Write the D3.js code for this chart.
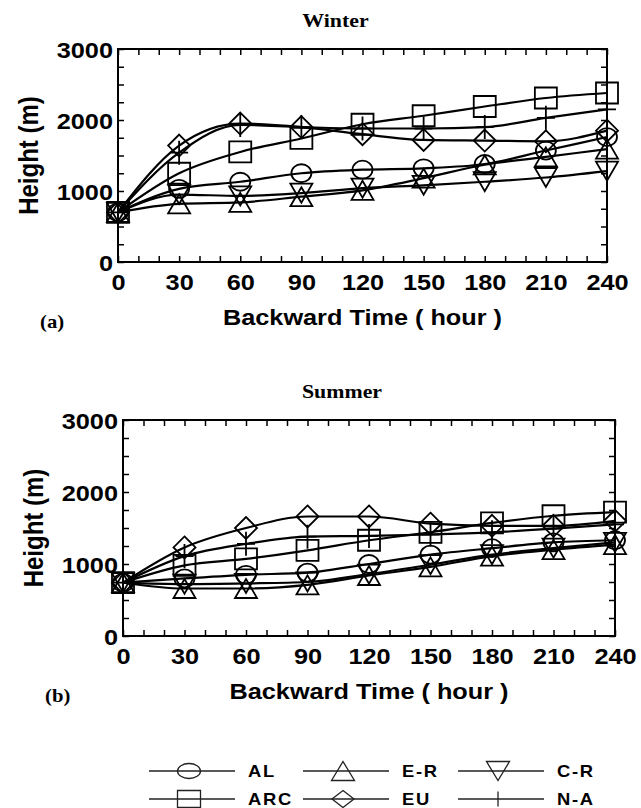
<!DOCTYPE html>
<html>
<head>
<meta charset="utf-8">
<script src="https://cdn.jsdelivr.net/npm/d3@7"></script>
<style>
  body { margin: 0; background: #fff; }
  svg { display: block; }
  .sans { font-family: "Liberation Sans", Arial, sans-serif; font-weight: bold; }
  .serif { font-family: "Liberation Serif", "Times New Roman", serif; font-weight: bold; }
</style>
</head>
<body>
<svg id="chart" width="641" height="808"></svg>
<script>
// Valores (altura em metros por hora de trajetória)
const hours = [0, 30, 60, 90, 120, 150, 180, 210, 240];
const seriesNames = ['AL', 'ARC', 'E-R', 'EU', 'C-R', 'N-A'];
const seriesSymbols = ['circle', 'square', 'triUp', 'diamond', 'triDown', 'plus'];

const winterAL  = [700, 1030, 1130, 1250, 1300, 1320, 1380, 1570, 1760];
const winterARC = [700, 1250, 1550, 1740, 1940, 2060, 2190, 2310, 2380];
const winterER  = [700, 820, 840, 920, 1010, 1180, 1370, 1480, 1590];
const winterEU  = [700, 1640, 1950, 1900, 1800, 1720, 1710, 1700, 1850];
const winterCR  = [700, 950, 930, 970, 1040, 1080, 1130, 1190, 1280];
const winterNA  = [700, 1540, 1930, 1900, 1880, 1880, 1900, 2030, 2150];

const summerAL  = [740, 800, 850, 880, 1000, 1130, 1220, 1300, 1330];
const summerARC = [740, 980, 1070, 1190, 1330, 1440, 1570, 1670, 1720];
const summerER  = [740, 660, 660, 710, 840, 960, 1110, 1200, 1270];
const summerEU  = [740, 1230, 1500, 1660, 1660, 1560, 1530, 1530, 1600];
const summerCR  = [740, 720, 730, 750, 860, 990, 1130, 1220, 1300];
const summerNA  = [740, 1110, 1280, 1380, 1390, 1410, 1440, 1490, 1550];

const xTickLabels = [0, 30, 60, 90, 120, 150, 180, 210, 240];
const yTickLabels = [0, 1000, 2000, 3000];

// A figura original está esticada na horizontal
const STRETCH = 1.15;

const svg = d3.select('#chart');

// Desenha um marcador centrado na origem (largura w, altura h)
function symbolPath(type, w, h) {
    const a = w / 2, b = h / 2;
    switch (type) {
        case 'circle':  return `M${-a},0A${a},${b} 0 1,0 ${a},0A${a},${b} 0 1,0 ${-a},0Z`;
        case 'square':  return `M${-a},${-b}H${a}V${b}H${-a}Z`;
        case 'diamond': return `M0,${-b}L${a},0L0,${b}L${-a},0Z`;
        case 'triUp':   return `M0,${-b}L${a},${b}L${-a},${b}Z`;
        case 'triDown': return `M${-a},${-b}L${a},${-b}L0,${b}Z`;
        case 'plus':    return `M0,${-b}V${b}M${-a},0H${a}`;
    }
}

const plotSizes = {
    circle: [20, 18], square: [22, 21], diamond: [22, 22],
    triUp: [22, 19], triDown: [22, 19], plus: [18, 24]
};
const legendSizes = {
    circle: [23, 15], square: [23, 17], diamond: [22, 17],
    triUp: [23, 19], triDown: [23, 19], plus: [0, 15]
};

// Texto com esticamento horizontal
function addText(parent, str, x, y, cls, size, anchor) {
    return parent.append('text')
        .attr('class', cls)
        .attr('font-size', size)
        .attr('text-anchor', anchor)
        .attr('transform', `translate(${x},${y}) scale(${STRETCH},1)`)
        .text(str);
}

const panels = [
    { title: 'Winter', tag: '(a)', left: 118, right: 607, top: 49, bottom: 262,
      values: [winterAL, winterARC, winterER, winterEU, winterCR, winterNA] },
    { title: 'Summer', tag: '(b)', left: 123, right: 615, top: 420, bottom: 636,
      values: [summerAL, summerARC, summerER, summerEU, summerCR, summerNA] }
];

function drawPanel(p) {
    const x = d3.scaleLinear().domain([0, 240]).range([p.left, p.right]);
    const y = d3.scaleLinear().domain([0, 3000]).range([p.bottom, p.top]);
    const g = svg.append('g');

    addText(g, p.title, (p.left + p.right) / 2 - 27, p.top - 22, 'serif', 19, 'middle');

    // Eixos com ticks para dentro
    const minorX = d3.range(0, 241, 10);
    const minorY = d3.range(0, 3001, 250);

    const bottom = g.append('g')
        .attr('transform', `translate(0,${p.bottom})`)
        .call(d3.axisBottom(x).tickValues(minorX).tickSizeInner(-6).tickSizeOuter(0)
            .tickFormat(d => xTickLabels.includes(d) ? d : ''));
    bottom.selectAll('text')
        .attr('class', 'sans').attr('font-size', 22).attr('fill', '#000')
        .attr('y', 0).attr('dy', null)
        .attr('transform', `translate(0,28) scale(${STRETCH},1)`);

    g.append('g')
        .attr('transform', `translate(0,${p.top})`)
        .call(d3.axisTop(x).tickValues(minorX).tickSizeInner(-6).tickSizeOuter(0).tickFormat(''));

    const left = g.append('g')
        .attr('transform', `translate(${p.left},0)`)
        .call(d3.axisLeft(y).tickValues(minorY).tickSizeInner(-6).tickSizeOuter(0)
            .tickFormat(d => yTickLabels.includes(d) ? d : ''));
    left.selectAll('text')
        .attr('class', 'sans').attr('font-size', 22).attr('fill', '#000')
        .attr('x', 0).attr('dy', null)
        .attr('transform', `translate(-5,8) scale(${STRETCH},1)`);

    g.append('g')
        .attr('transform', `translate(${p.right},0)`)
        .call(d3.axisRight(y).tickValues(minorY).tickSizeInner(-6).tickSizeOuter(0).tickFormat(''));

    g.selectAll('.domain').remove();
    g.selectAll('.tick line').attr('stroke', '#000').attr('stroke-width', 1.5);

    g.append('rect')
        .attr('x', p.left).attr('y', p.top)
        .attr('width', p.right - p.left).attr('height', p.bottom - p.top)
        .attr('fill', 'none').attr('stroke', '#000').attr('stroke-width', 2);

    // Títulos dos eixos
    g.append('text')
        .attr('class', 'sans').attr('font-size', 24)
        .attr('text-anchor', 'middle').attr('dominant-baseline', 'central')
        .attr('transform', `translate(${p.left - 90},${(p.top + p.bottom) / 2}) scale(${STRETCH},1) rotate(-90)`)
        .text('Height (m)');
    addText(g, 'Backward Time ( hour )', (p.left + p.right) / 2, p.bottom + 63, 'sans', 22, 'middle');
    addText(g, p.tag, p.left - 78, p.bottom + 66, 'serif', 18, 'start');

    // Linhas das séries
    const line = d3.line()
        .x((d, i) => x(hours[i]))
        .y(d => y(d))
        .curve(d3.curveMonotoneX);

    g.selectAll('.series')
        .data(p.values)
        .enter()
        .append('path')
        .attr('class', 'series')
        .attr('d', line)
        .attr('fill', 'none')
        .attr('stroke', '#000')
        .attr('stroke-width', 2.2);

    // Marcadores
    p.values.forEach((vals, s) => {
        const type = seriesSymbols[s];
        const [w, h] = plotSizes[type];
        g.selectAll(null)
            .data(vals)
            .enter()
            .append('path')
            .attr('d', symbolPath(type, w, h))
            .attr('transform', (d, i) => `translate(${x(hours[i])},${y(d)})`)
            .attr('fill', 'none')
            .attr('stroke', '#000')
            .attr('stroke-width', 1.8);
    });
}

panels.forEach(drawPanel);

// Legenda (3 colunas x 2 linhas)
const legendOrder = [0, 2, 4, 1, 3, 5];
const legendCols = [149, 303, 458];
const legendRows = [771, 799];
const legend = svg.append('g');

legendOrder.forEach((s, k) => {
    const lx = legendCols[k % 3];
    const ly = legendRows[Math.floor(k / 3)];
    const type = seriesSymbols[s];
    const [w, h] = legendSizes[type];
    legend.append('line')
        .attr('x1', lx).attr('x2', lx + 86)
        .attr('y1', ly).attr('y2', ly)
        .attr('stroke', '#222').attr('stroke-width', 1.3);
    legend.append('path')
        .attr('d', symbolPath(type, w, h))
        .attr('transform', `translate(${lx + 40},${ly})`)
        .attr('fill', 'none').attr('stroke', '#222').attr('stroke-width', 1.3);
    addText(legend, seriesNames[s], lx + 99, ly + 6, 'sans', 16, 'start')
        .attr('letter-spacing', 1.5);
});
</script>
</body>
</html>
